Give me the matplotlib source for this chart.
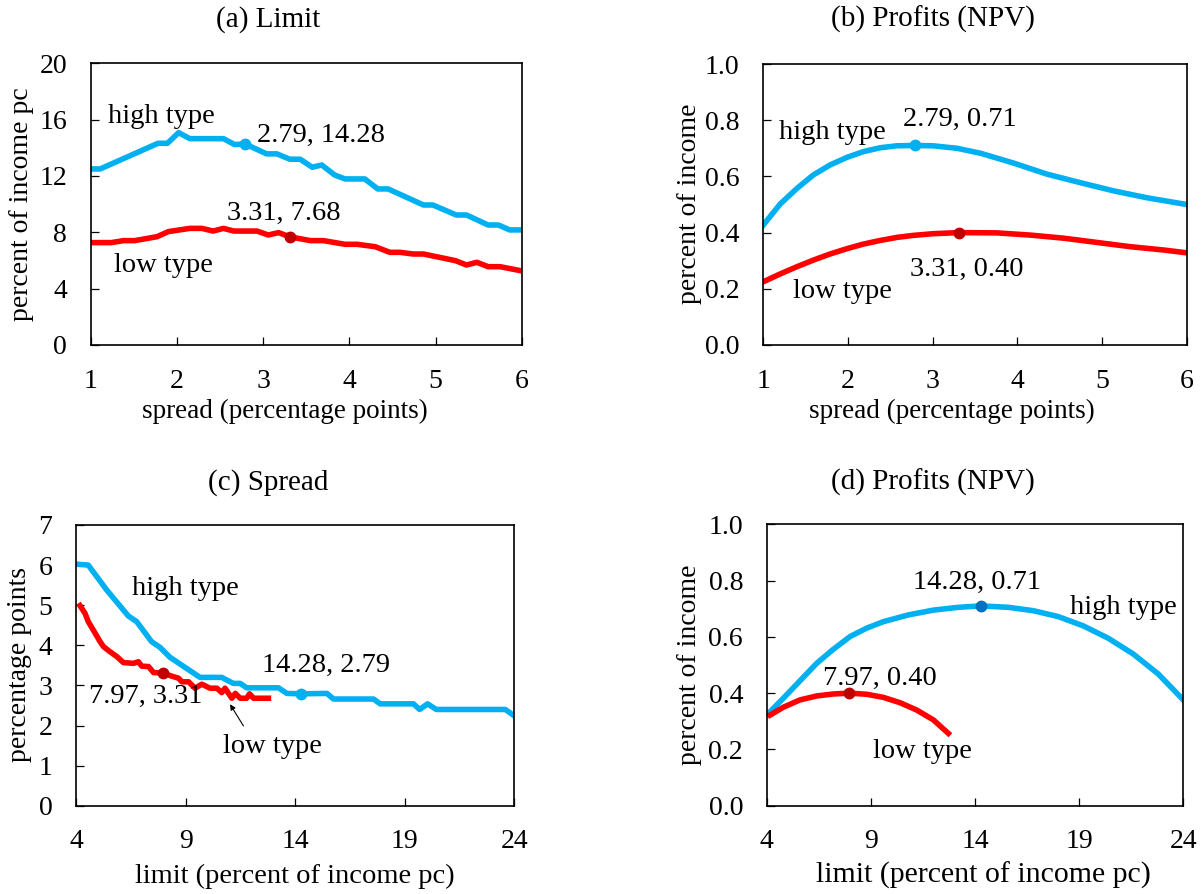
import matplotlib
matplotlib.use('Agg')
import matplotlib.pyplot as plt

plt.rcParams['font.family'] = ['Liberation Serif', 'DejaVu Serif']

# colours
blue = '#00B0F0'
red = '#FF0000'
darkred = '#C00000'

# (a) Limit vs spread
a_high_x = [1.0, 1.11, 1.78, 1.89, 2.02, 2.15, 2.54, 2.67, 2.79, 3.04, 3.16, 3.31, 3.43, 3.57, 3.68,
            3.83, 3.95, 4.18, 4.33, 4.45, 4.86, 4.97, 5.24, 5.36, 5.61, 5.73, 5.86, 6.0]
a_high_y = [12.5, 12.5, 14.32, 14.32, 15.08, 14.65, 14.65, 14.23, 14.28, 13.57, 13.57, 13.19, 13.19, 12.62, 12.78,
            12.07, 11.79, 11.79, 11.08, 11.08, 9.94, 9.94, 9.23, 9.23, 8.52, 8.52, 8.17, 8.17]
a_low_x = [1.0, 1.24, 1.38, 1.51, 1.77, 1.90, 2.15, 2.29, 2.42, 2.54, 2.66, 2.93, 3.06, 3.18, 3.31,
           3.55, 3.70, 3.95, 4.09, 4.30, 4.47, 4.59, 4.74, 4.86, 5.23, 5.36, 5.48, 5.61, 5.75, 6.0]
a_low_y = [7.27, 7.27, 7.41, 7.41, 7.69, 8.05, 8.28, 8.28, 8.09, 8.28, 8.09, 8.09, 7.81, 7.98, 7.68,
           7.41, 7.41, 7.15, 7.15, 6.98, 6.58, 6.58, 6.46, 6.46, 5.99, 5.68, 5.87, 5.56, 5.56, 5.26]

# (b) Profits vs spread
b_high_x = [1.0, 1.20, 1.40, 1.59, 1.79, 1.99, 2.18, 2.38, 2.58, 2.79, 3.0, 3.29, 3.57, 3.96,
            4.35, 4.74, 5.13, 5.53, 6.0]
b_high_y = [0.427, 0.502, 0.558, 0.605, 0.641, 0.668, 0.688, 0.702, 0.709, 0.71, 0.709, 0.70, 0.682, 0.647,
            0.608, 0.578, 0.549, 0.524, 0.50]
b_low_x = [1.0, 1.20, 1.40, 1.59, 1.79, 1.99, 2.18, 2.38, 2.58, 2.77, 3.0, 3.31, 3.76, 4.16,
           4.55, 4.94, 5.33, 5.73, 6.0]
b_low_y = [0.225, 0.253, 0.279, 0.302, 0.324, 0.343, 0.359, 0.372, 0.383, 0.390, 0.396, 0.40, 0.399, 0.391,
           0.380, 0.365, 0.350, 0.338, 0.328]

# (c) Spread vs limit
c_high_x = [4.1, 4.56, 5.40, 6.39, 6.77, 7.45, 7.83, 8.29, 9.66, 10.65, 11.18, 11.49, 11.79, 13.24, 13.62,
            14.28, 15.45, 15.75, 17.58, 17.88, 19.40, 19.68, 20.04, 20.44, 23.59, 24.0]
c_high_y = [6.02, 6.0, 5.38, 4.73, 4.59, 4.09, 3.95, 3.70, 3.20, 3.20, 3.05, 3.05, 2.94, 2.94, 2.80,
            2.79, 2.80, 2.66, 2.66, 2.54, 2.54, 2.40, 2.54, 2.40, 2.40, 2.24]
c_low_x = [4.18, 4.41, 4.56, 4.79, 5.10, 5.25, 5.55, 5.86, 6.16, 6.62, 6.85, 7.0, 7.31, 7.54, 7.97,
           8.37, 8.68, 8.83, 9.14, 9.43, 9.74, 10.12, 10.43, 10.65, 10.8, 11.11, 11.27, 11.49, 11.79,
           11.92, 12.1, 12.78]
c_low_y = [4.99, 4.80, 4.59, 4.38, 4.09, 3.97, 3.84, 3.72, 3.57, 3.55, 3.59, 3.48, 3.47, 3.32, 3.31,
           3.23, 3.18, 3.09, 3.09, 2.93, 3.03, 2.93, 2.93, 2.82, 2.93, 2.68, 2.80, 2.68, 2.68,
           2.79, 2.68, 2.68]

# (d) Profits vs limit
d_high_x = [4.16, 4.80, 5.60, 6.40, 7.2, 8.0, 8.8, 9.6, 10.8, 12.0, 13.2, 14.28, 15.6, 16.8,
            18.0, 19.2, 20.4, 21.6, 22.8, 24.0]
d_high_y = [0.334, 0.382, 0.444, 0.506, 0.556, 0.601, 0.631, 0.654, 0.678, 0.695, 0.705, 0.71, 0.705, 0.693,
            0.672, 0.639, 0.595, 0.539, 0.468, 0.376]
d_low_x = [4.16, 4.80, 5.60, 6.40, 7.2, 7.97, 8.8, 9.6, 10.4, 11.2, 12.0, 12.72]
d_low_y = [0.322, 0.350, 0.376, 0.390, 0.397, 0.40, 0.396, 0.385, 0.366, 0.34, 0.305, 0.257]

# optimum points
opt_a = [(2.79, 14.28), (3.31, 7.68)]
opt_b = [(2.79, 0.71), (3.31, 0.40)]
opt_c = [(14.28, 2.79), (7.97, 3.31)]
opt_d = [(14.28, 0.71), (7.97, 0.40)]

W, H = 1202, 894
fig = plt.figure(figsize=(W / 100, H / 100), dpi=100)


def box(l, t, r, b):
    # pixel box -> figure fraction
    return [l / W, 1 - b / H, (r - l) / W, (b - t) / H]


def ftext(x, y, s, **kw):
    fig.text(x / W, 1 - y / H, s, **kw)


ax_a = fig.add_axes(box(90.7, 63.3, 521.7, 345))
ax_b = fig.add_axes(box(763.3, 64, 1186.7, 345))
ax_c = fig.add_axes(box(76, 525, 514.3, 805.7))
ax_d = fig.add_axes(box(766.7, 524.3, 1183.3, 805.7))

lw = 4
ms = 7.5
tfs = 20
afs = 20.5

for ax in [ax_a, ax_b, ax_c, ax_d]:
    ax.tick_params(direction='in', length=6, width=0.9, labelsize=tfs, pad=17,
                   top=False, right=False)
    for sp in ax.spines.values():
        sp.set_linewidth(1.2)

# (a)
ax_a.plot(a_high_x, a_high_y, color=blue, lw=lw)
ax_a.plot(a_low_x, a_low_y, color=red, lw=lw)
ax_a.plot(*opt_a[0], 'o', color=blue, ms=ms)
ax_a.plot(*opt_a[1], 'o', color=darkred, ms=ms)
ax_a.set_xlim(1, 6)
ax_a.set_ylim(0, 20)
ax_a.set_xticks([1, 2, 3, 4, 5, 6])
ax_a.set_yticks([0, 4, 8, 12, 16, 20])
ax_a.text(1.82, 15.79, 'high type', fontsize=afs, ha='center', va='baseline')
ax_a.text(3.67, 14.44, '2.79, 14.28', fontsize=afs, ha='center', va='baseline')
ax_a.text(3.245, 8.88, '3.31, 7.68', fontsize=afs, ha='center', va='baseline')
ax_a.text(1.84, 5.21, 'low type', fontsize=afs, ha='center', va='baseline')

# (b)
ax_b.plot(b_high_x, b_high_y, color=blue, lw=lw)
ax_b.plot(b_low_x, b_low_y, color=red, lw=lw)
ax_b.plot(*opt_b[0], 'o', color=blue, ms=ms)
ax_b.plot(*opt_b[1], 'o', color=darkred, ms=ms)
ax_b.set_xlim(1, 6)
ax_b.set_ylim(0, 1)
ax_b.set_xticks([1, 2, 3, 4, 5, 6])
ax_b.set_yticks([0, 0.2, 0.4, 0.6, 0.8, 1.0])
ax_b.set_yticklabels(['0.0', '0.2', '0.4', '0.6', '0.8', '1.0'])
ax_b.text(3.32, 0.779, '2.79, 0.71', fontsize=afs, ha='center', va='baseline')
ax_b.text(1.82, 0.732, 'high type', fontsize=afs, ha='center', va='baseline')
ax_b.text(3.40, 0.2456, '3.31, 0.40', fontsize=afs, ha='center', va='baseline')
ax_b.text(1.935, 0.166, 'low type', fontsize=afs, ha='center', va='baseline')

# (c)
ax_c.plot(c_high_x, c_high_y, color=blue, lw=lw)
ax_c.plot(c_low_x, c_low_y, color=red, lw=lw)
ax_c.plot(*opt_c[0], 'o', color=blue, ms=ms)
ax_c.plot(*opt_c[1], 'o', color=darkred, ms=ms)
ax_c.set_xlim(4, 24)
ax_c.set_ylim(0, 7)
ax_c.set_xticks([4, 9, 14, 19, 24])
ax_c.set_yticks(range(8))
ax_c.text(8.98, 5.25, 'high type', fontsize=afs, ha='center', va='baseline')
ax_c.text(15.39, 3.34, '14.28, 2.79', fontsize=afs, ha='center', va='baseline')
ax_c.text(7.19, 2.57, '7.97, 3.31', fontsize=afs, ha='center', va='baseline')
ax_c.text(12.95, 1.31, 'low type', fontsize=afs, ha='center', va='baseline')
ax_c.annotate('', xy=(11.03, 2.53), xytext=(11.64, 1.99),
              arrowprops=dict(arrowstyle='-|>', color='black', lw=0.8,
                              mutation_scale=8, shrinkA=0, shrinkB=0))

# (d)
ax_d.plot(d_high_x, d_high_y, color=blue, lw=lw)
ax_d.plot(d_low_x, d_low_y, color=red, lw=lw)
ax_d.plot(*opt_d[0], 'o', color='#0070C0', ms=ms)
ax_d.plot(*opt_d[1], 'o', color=darkred, ms=ms)
ax_d.set_xlim(4, 24)
ax_d.set_ylim(0, 1)
ax_d.set_xticks([4, 9, 14, 19, 24])
ax_d.set_yticks([0, 0.2, 0.4, 0.6, 0.8, 1.0])
ax_d.set_yticklabels(['0.0', '0.2', '0.4', '0.6', '0.8', '1.0'])
ax_d.text(14.08, 0.770, '14.28, 0.71', fontsize=afs, ha='center', va='baseline')
ax_d.text(21.12, 0.680, 'high type', fontsize=afs, ha='center', va='baseline')
ax_d.text(9.45, 0.429, '7.97, 0.40', fontsize=afs, ha='center', va='baseline')
ax_d.text(11.48, 0.168, 'low type', fontsize=afs, ha='center', va='baseline')

# titles
ftext(268, 27, '(a) Limit', fontsize=21, ha='center', va='baseline')
ftext(933, 27, '(b) Profits (NPV)', fontsize=21, ha='center', va='baseline')
ftext(268, 490, '(c) Spread', fontsize=21, ha='center', va='baseline')
ftext(933, 490, '(d) Profits (NPV)', fontsize=21, ha='center', va='baseline')

# axis labels
ftext(285, 418, 'spread (percentage points)', fontsize=19.5, ha='center', va='baseline')
ftext(952, 418, 'spread (percentage points)', fontsize=19.5, ha='center', va='baseline')
ftext(295, 883, 'limit (percent of income pc)', fontsize=20.5, ha='center', va='baseline')
ftext(983, 883, 'limit (percent of income pc)', fontsize=21.5, ha='center', va='baseline')
ftext(22, 204, 'percent of income pc', fontsize=20, rotation=90, ha='center', va='center')
ftext(689, 204, 'percent of income', fontsize=20, rotation=90, ha='center', va='center')
ftext(20, 665, 'percentage points', fontsize=20, rotation=90, ha='center', va='center')
ftext(689, 665, 'percent of income', fontsize=20, rotation=90, ha='center', va='center')

fig.savefig('out.png', dpi=100)
